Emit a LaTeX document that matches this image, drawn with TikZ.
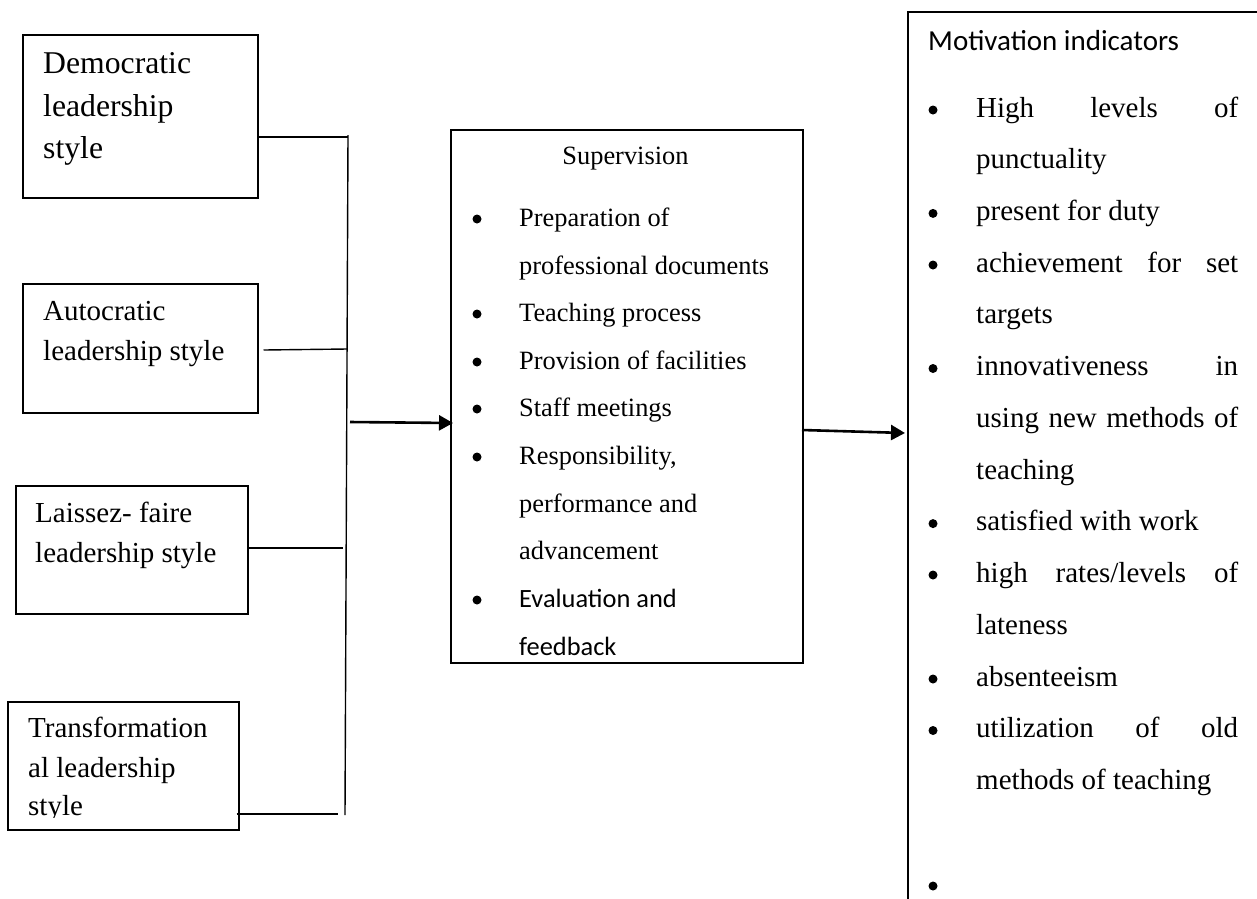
\documentclass[tikz,border=0pt]{standalone}
\usepackage{fontspec}
\setmainfont{Liberation Serif}
\newfontfamily\calfont{Carlito}
\usetikzlibrary{arrows.meta}
\tikzset{
  boxnode/.style={draw, line width=1.5pt, inner sep=0pt, anchor=north west},
  txt/.style={inner sep=0pt, anchor=base west},
  bul/.style={circle, fill=black, inner sep=0pt, minimum size=9pt, yshift=7pt},
  link/.style={line width=1.4pt},
  arr/.style={line width=2.6pt, -{Triangle[length=14pt,width=15pt]}},
  dfont/.style={font=\fontsize{31.7}{42}\selectfont},
  lfont/.style={font=\fontsize{29}{40}\selectfont},
  sfont/.style={font=\fontsize{26.4}{47}\selectfont},
  cfont/.style={font=\calfont\fontsize{26.4}{47}\selectfont},
  mfont/.style={font=\fontsize{29}{52}\selectfont},
  tfont/.style={font=\calfont\fontsize{29}{52}\selectfont}
}
\begin{document}
\begin{tikzpicture}[x=1pt,y=-1pt]
\useasboundingbox (0,0) rectangle (1257,898);
\clip (0,0) rectangle (1257,898);
% left boxes
\node[boxnode, minimum width=235pt, minimum height=163pt] (dem) at (22,34) {};
\node[boxnode, minimum width=235pt, minimum height=129pt] (aut) at (22,283) {};
\node[boxnode, minimum width=232pt, minimum height=128pt] (lai) at (15,485) {};
\node[boxnode, minimum width=231pt, minimum height=128pt] (tra) at (7,701) {};
% left texts
\node[txt, dfont] (dem1) at (43,73) {Democratic};
\node[txt, dfont] (dem2) at (43,116) {leadership};
\node[txt, dfont] (dem3) at (43,158) {style};
\node[txt, lfont] (aut1) at (43,320) {Autocratic};
\node[txt, lfont] (aut2) at (43,360) {leadership style};
\node[txt, lfont] (lai1) at (35,522) {Laissez- faire};
\node[txt, lfont] (lai2) at (35,562) {leadership style};
\node[txt, lfont] (tra1) at (28,737) {Transformation};
\node[txt, lfont] (tra2) at (28,777) {al leadership};
\begin{scope}
\clip (0,0) rectangle (1257,817);
\node[txt, lfont] (tra3) at (28,815) {style};
\end{scope}
% bus and connectors
\coordinate (bustop) at (348,135);
\coordinate (busbot) at (345,815);
\coordinate (j1) at (348,137);
\coordinate (j2) at (347,349);
\coordinate (j3) at (343,548);
\coordinate (j4) at (338,814);
\draw[link] (bustop) -- (busbot);
\draw[link] (dem.north east |- j1) -- (j1);
\draw[link] ([xshift=5pt]aut.north east |- 0,350) -- (j2);
\draw[link] (lai.north east |- j3) -- (j3);
\draw[link] ([xshift=-3pt]tra.north east |- j4) -- (j4);
% supervision box
\node[boxnode, minimum width=352pt, minimum height=533pt] (sup) at (450,129) {};
\node[inner sep=0pt, anchor=base, sfont] (suph) at (625.5,164) {Supervision};
\node[bul] (sb1) at (477,226) {};
\node[txt, sfont] (s1) at (519,226) {Preparation of};
\node[txt, sfont] (s1b) at (519,274) {professional documents};
\node[bul] (sb2) at (477,321) {};
\node[txt, sfont] (s2) at (519,321) {Teaching process};
\node[bul] (sb3) at (477,369) {};
\node[txt, sfont] (s3) at (519,369) {Provision of facilities};
\node[bul] (sb4) at (477,416) {};
\node[txt, sfont] (s4) at (519,416) {Staff meetings};
\node[bul] (sb5) at (477,464) {};
\node[txt, sfont] (s5) at (519,464) {Responsibility,};
\node[txt, sfont] (s5b) at (519,512) {performance and};
\node[txt, sfont] (s5c) at (519,559) {advancement};
\node[bul] (sb6) at (477,607) {};
\node[txt, cfont] (s6) at (519,607) {Evaluation and};
\begin{scope}
\clip (0,0) rectangle (1257,659);
\node[txt, cfont] (s6b) at (519,655) {feedback};
\end{scope}
% arrows
\coordinate (a1s) at (350,422);
\coordinate (a2s) at (802,430);
\coordinate (a2e) at (905,433);
\draw[arr] (a1s) -- ([xshift=3pt]sup.west |- 0,423);
\draw[arr] (a2s) -- (a2e);
% motivation box
\node[boxnode, minimum width=420pt, minimum height=1000pt] (mot) at (907,11) {};
\node[txt, tfont] (mh) at (928,50) {Motivation indicators};
\node[bul] (mb1) at (933,117) {};
\node[txt, mfont] (m1) at (976,117) {\hbox to 262pt{High\hfill levels\hfill of}};
\node[txt, mfont] (m1b) at (976,168.7) {punctuality};
\node[bul] (mb2) at (933,220.4) {};
\node[txt, mfont] (m2) at (976,220.4) {present for duty};
\node[bul] (mb3) at (933,272) {};
\node[txt, mfont] (m3) at (976,272) {\hbox to 262pt{achievement\hfill for\hfill set}};
\node[txt, mfont] (m3b) at (976,323.8) {targets};
\node[bul] (mb4) at (933,375.5) {};
\node[txt, mfont] (m4) at (976,375.5) {\hbox to 262pt{innovativeness\hfill in}};
\node[txt, mfont] (m4b) at (976,427) {\hbox to 262pt{using\hfill new\hfill methods\hfill of}};
\node[txt, mfont] (m4c) at (976,479) {teaching};
\node[bul] (mb5) at (933,530.6) {};
\node[txt, mfont] (m5) at (976,530.6) {satisfied with work};
\node[bul] (mb6) at (933,582) {};
\node[txt, mfont] (m6) at (976,582) {\hbox to 262pt{high\hfill rates/levels\hfill of}};
\node[txt, mfont] (m6b) at (976,634) {lateness};
\node[bul] (mb7) at (933,686) {};
\node[txt, mfont] (m7) at (976,686) {absenteeism};
\node[bul] (mb8) at (933,737.5) {};
\node[txt, mfont] (m8) at (976,737.5) {\hbox to 262pt{utilization\hfill of\hfill old}};
\node[txt, mfont] (m8b) at (976,789) {methods of teaching};
\node[bul] (mb9) at (933,893) {};
\end{tikzpicture}
\end{document}
